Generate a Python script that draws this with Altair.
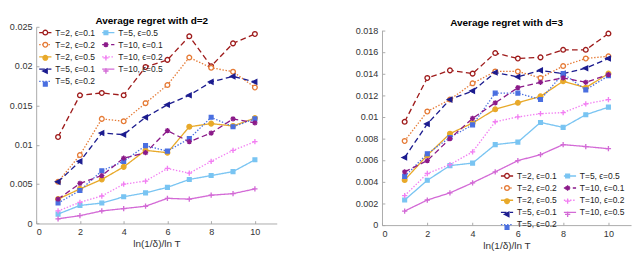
import math
import altair as alt
import pandas as pd

x_vals = list(range(1, 11))
series_names = ["T=2, ϵ=0.1", "T=2, ϵ=0.2", "T=2, ϵ=0.5",
                "T=5, ϵ=0.1", "T=5, ϵ=0.2", "T=5, ϵ=0.5",
                "T=10, ϵ=0.1", "T=10, ϵ=0.2", "T=10, ϵ=0.5"]

# ---- d = 2 ----
d2_T2_e01 = [0.0110, 0.0163, 0.0166, 0.0163, 0.0199, 0.0208, 0.0238, 0.0200, 0.0229, 0.0241]
d2_T2_e02 = [0.0053, 0.0087, 0.0133, 0.0130, 0.0153, 0.0176, 0.0211, 0.0198, 0.0193, 0.0173]
d2_T2_e05 = [0.0031, 0.0044, 0.0056, 0.0072, 0.0093, 0.0090, 0.0123, 0.0127, 0.0124, 0.0134]
d2_T5_e01 = [0.0053, 0.0079, 0.0115, 0.0113, 0.0135, 0.0151, 0.0163, 0.0180, 0.0187, 0.0180]
d2_T5_e02 = [0.0026, 0.0042, 0.0067, 0.0079, 0.0099, 0.0092, 0.0108, 0.0135, 0.0123, 0.0133]
d2_T5_e05 = [0.0012, 0.0023, 0.0026, 0.0034, 0.0039, 0.0046, 0.0056, 0.0061, 0.0066, 0.0081]
d2_T10_e01 = [0.0031, 0.0051, 0.0061, 0.0083, 0.0090, 0.0118, 0.0104, 0.0115, 0.0133, 0.0128]
d2_T10_e02 = [0.0016, 0.0027, 0.0035, 0.0050, 0.0054, 0.0070, 0.0064, 0.0079, 0.0093, 0.0104]
d2_T10_e05 = [0.0006, 0.0010, 0.0016, 0.0019, 0.0022, 0.0032, 0.0031, 0.0036, 0.0038, 0.0044]

# ---- d = 3 ----
d3_T2_e01 = [0.00955, 0.0136, 0.0143, 0.0140, 0.0159, 0.0154, 0.0155, 0.0162, 0.0162, 0.0177]
d3_T2_e02 = [0.00778, 0.0105, 0.0116, 0.0131, 0.0142, 0.0142, 0.0136, 0.0147, 0.0154, 0.0156]
d3_T2_e05 = [0.00417, 0.00645, 0.00845, 0.00943, 0.0107, 0.0113, 0.0119, 0.0133, 0.0127, 0.0140]
d3_T5_e01 = [0.00625, 0.00935, 0.0116, 0.0124, 0.0141, 0.0137, 0.0143, 0.0140, 0.0145, 0.0154]
d3_T5_e02 = [0.00449, 0.0066, 0.0081, 0.00926, 0.0122, 0.0122, 0.0116, 0.0140, 0.0125, 0.0138]
d3_T5_e05 = [0.00232, 0.00414, 0.0055, 0.00573, 0.00744, 0.00767, 0.00949, 0.00903, 0.0102, 0.0109]
d3_T10_e01 = [0.00492, 0.00596, 0.00799, 0.00987, 0.0113, 0.0127, 0.0132, 0.0136, 0.0132, 0.0139]
d3_T10_e02 = [0.00272, 0.00477, 0.00559, 0.00677, 0.00955, 0.0100, 0.0103, 0.0104, 0.0112, 0.0116]
d3_T10_e05 = [0.0013, 0.00232, 0.00298, 0.00391, 0.00492, 0.00596, 0.00651, 0.00744, 0.00726, 0.00706]

d2_series = [d2_T2_e01, d2_T2_e02, d2_T2_e05, d2_T5_e01, d2_T5_e02, d2_T5_e05, d2_T10_e01, d2_T10_e02, d2_T10_e05]
d3_series = [d3_T2_e01, d3_T2_e02, d3_T2_e05, d3_T5_e01, d3_T5_e02, d3_T5_e05, d3_T10_e01, d3_T10_e02, d3_T10_e05]

d2_yticks = [0, 0.005, 0.01, 0.015, 0.02, 0.025]
d3_yticks = [0, 0.002, 0.004, 0.006, 0.008, 0.01, 0.012, 0.014, 0.016, 0.018]
x_ticks = [0, 2, 4, 6, 8, 10]

# ---- styles ----
colors = ["#9e1b1b", "#e57a35", "#e8a92a", "#1c1c8f", "#4a6fe0", "#79c4f2", "#8b1a89", "#f27ef2", "#d36ad6"]
fills = ["white", "white", "#e8a92a", "#1c1c8f", "#4a6fe0", "#79c4f2", "transparent", "transparent", "transparent"]
dash_a = [6, 3.5]
dash_d = [1.5, 1.8]
dash_s = [1, 0]
dashes = [dash_a, dash_d, dash_s] * 3

L = 13.0            # legend line length (px)
u = L / 2.0         # px per unit in custom symbol paths


def f(v):
    return f"{v / u:.3f}"


circle = "M" + "L".join(f"{f(2.5 * math.cos(2 * math.pi * k / 16))},{f(2.5 * math.sin(2 * math.pi * k / 16))}"
                        for k in range(16)) + "Z"
tri_left = f"M{f(-2.8)},0L{f(2.0)},{f(-2.4)}L{f(2.0)},{f(2.4)}Z"
square = f"M{f(-2)},{f(-2)}L{f(2)},{f(-2)}L{f(2)},{f(2)}L{f(-2)},{f(2)}Z"
plus = f"M{f(-2.8)},0L{f(2.8)},0M0,{f(-2.8)}L0,{f(2.8)}"
star = plus + f"M{f(-2)},{f(-2)}L{f(2)},{f(2)}M{f(-2)},{f(2)}L{f(2)},{f(-2)}"
shapes = [circle, circle, circle, tri_left, square, square, star, plus, plus]

# the 2-column legend is filled column by column, so the natural order is kept
ZW = "\u200b"   # marker legend uses its own domain so it is not merged with the line legend
dom = list(series_names)
dom_m = [s + ZW for s in series_names]
col_r = colors
fill_r = fills
dash_r = dashes
shape_r = shapes


def make_df(series):
    rows = []
    for name, vals in zip(series_names, series):
        for xv, yv in zip(x_vals, vals):
            rows.append({"x": xv, "v": yv, "series": name, "series_m": name + ZW})
    return pd.DataFrame(rows)


FONT = "Liberation Sans"
LEG_FS = 9
COL1_W = 42.5   # width of the longest first-column legend label
TICK = -3       # inward ticks


def panel(series, title, ymax, yticks, w, h, top_gap, title_dx, title_dy, lx, ly):
    df = make_df(series)
    base = alt.Chart(df)
    x = alt.X("x:Q", scale=alt.Scale(domain=[0, 11], nice=False),
              axis=alt.Axis(values=x_ticks, title="ln(1/δ)/ln T"))
    y = alt.Y("v:Q", scale=alt.Scale(domain=[0, ymax], nice=False, range=[h, top_gap]),
              axis=alt.Axis(values=yticks, format="~g", title=None))
    leg_common = dict(orient="none", legendX=lx, legendY=ly, columns=2, title=None,
                      symbolSize=L * L, symbolStrokeWidth=1.4, labelFont=FONT,
                      labelFontSize=LEG_FS, labelOffset=3, padding=0,
                      rowPadding=alt.ExprRef(expr="-2.7"), labelLimit=200)
    leg1 = alt.Legend(symbolType="stroke", labelColor="#222222", columnPadding=4, **leg_common)
    leg2 = alt.Legend(labelExpr="''", columnPadding=4 + COL1_W, **leg_common)
    lines = base.mark_line(strokeWidth=1.4).encode(
        x=x, y=y,
        color=alt.Color("series:N", scale=alt.Scale(domain=dom, range=col_r), legend=leg1),
        strokeDash=alt.StrokeDash("series:N", scale=alt.Scale(domain=dom, range=dash_r), legend=leg1),
    )
    pts = base.mark_point(size=L * L, strokeWidth=1.4, opacity=1, filled=False).encode(
        x=x, y=y,
        shape=alt.Shape("series_m:N", scale=alt.Scale(domain=dom_m, range=shape_r), legend=leg2),
        fill=alt.Fill("series_m:N", scale=alt.Scale(domain=dom_m, range=fill_r), legend=leg2),
        stroke=alt.Stroke("series_m:N", scale=alt.Scale(domain=dom_m, range=col_r), legend=leg2),
    )
    return alt.layer(lines, pts).properties(
        width=w, height=h,
        title=alt.TitleParams(text=title, fontSize=10.6, fontWeight="bold", font=FONT,
                              color="#000000", offset=4, anchor="middle",
                              dx=title_dx, dy=title_dy),
    )


left = panel(d2_series, "Average regret with d=2", 0.025, d2_yticks, 256, 209.3, 0, -5, 8.7, 2.2, -1.5)
right = panel(d3_series, "Average regret with d=3", 0.018, d3_yticks, 265, 211, 3.7, 0, 7.2, 125.5, 151)

chans = dict(color="independent", strokeDash="independent", shape="independent",
             fill="independent", stroke="independent")

chart = alt.hconcat(left, right, spacing=81).resolve_scale(**chans).resolve_legend(**chans).properties(
    padding={"left": 0, "top": 0, "right": 0, "bottom": 0}
).configure_view(stroke="transparent").configure_axis(
    grid=False, domainColor="#a6a6a6", ticks=True, tickColor="#a6a6a6",
    tickSize=alt.ExprRef(expr=str(TICK)),
    labelFont=FONT, labelFontSize=9.6, labelColor="#333333",
    titleFont=FONT, titleFontSize=10.6, titleFontWeight="normal", titleColor="#333333",
).configure_axisX(labelPadding=4.2 - TICK, titlePadding=3).configure_axisY(labelPadding=4.5 - TICK)

chart.save("out.html", embed_options={"renderer": "svg", "actions": False})
